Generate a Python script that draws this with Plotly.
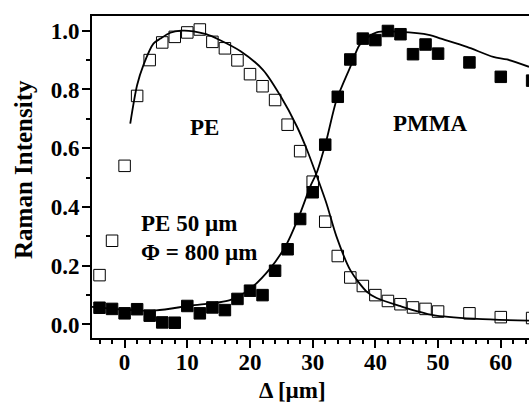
import plotly.graph_objects as go

# Measured data: PE (open squares) and PMMA (filled squares)
delta = [-4, -2, 0, 2, 4, 6, 8, 10, 12, 14, 16, 18, 20, 22, 24, 26, 28, 30,
         32, 34, 36, 38, 40, 42, 44, 46, 48, 50, 55, 60, 65]
pe_intensity = [0.168, 0.285, 0.54, 0.778, 0.90, 0.96, 0.979, 0.994, 1.004, 0.962,
                0.94, 0.899, 0.852, 0.811, 0.764, 0.68, 0.59, 0.486, 0.35, 0.233,
                0.16, 0.131, 0.10, 0.08, 0.069, 0.058, 0.053, 0.044, 0.038, 0.025, 0.022]
pmma_intensity = [0.057, 0.053, 0.038, 0.052, 0.03, 0.007, 0.006, 0.063, 0.038, 0.058,
                  0.049, 0.087, 0.115, 0.10, 0.183, 0.256, 0.359, 0.45, 0.612, 0.775,
                  0.902, 0.973, 0.968, 0.999, 0.988, 0.92, 0.953, 0.922, 0.892, 0.843, 0.83]

# Model curves (solid lines)
pe_fit_x = [0.9, 2, 3, 4.6, 5.7, 7.3, 9, 11, 13, 15, 18.5, 22.1, 24.8, 27.5, 29.1,
            30.4, 32.2, 33.8, 36, 38.6, 40.2, 43.9, 49.2, 56.2, 64.5]
pe_fit_y = [0.684, 0.815, 0.883, 0.956, 0.973, 0.993, 1.0, 0.998, 0.988, 0.97, 0.93,
            0.866, 0.78, 0.673, 0.594, 0.52, 0.412, 0.299, 0.185, 0.112, 0.09, 0.063,
            0.032, 0.019, 0.013]
pmma_fit_x = [-5.2, 0, 5, 10.4, 16.8, 20.1, 23.2, 25.9, 28, 29.6, 30.7, 32.2, 33.8,
              36, 37.6, 40.2, 44, 48.7, 50.3, 54.6, 58.8, 61, 64.5]
pmma_fit_y = [0.06, 0.05, 0.048, 0.064, 0.083, 0.123, 0.19, 0.276, 0.378, 0.469, 0.52,
              0.628, 0.764, 0.877, 0.955, 0.994, 0.996, 0.985, 0.974, 0.945, 0.911,
              0.902, 0.877]

x_range = [-5.2, 64.5]
y_range = [-0.046, 1.05]

FONT = "Liberation Serif, Times New Roman, serif"

fig = go.Figure()
fig.add_trace(go.Scatter(x=delta, y=pe_intensity, mode="markers",
                         marker=dict(symbol="square-open", size=11.5, color="black",
                                     line=dict(width=1, color="black"))))
fig.add_trace(go.Scatter(x=delta, y=pmma_intensity, mode="markers",
                         marker=dict(symbol="square", size=11.5, color="black",
                                     line=dict(width=1, color="black"))))
fig.add_trace(go.Scatter(x=pe_fit_x, y=pe_fit_y, mode="lines",
                         line=dict(color="black", width=1.8, shape="spline", smoothing=0.8)))
fig.add_trace(go.Scatter(x=pmma_fit_x, y=pmma_fit_y, mode="lines",
                         line=dict(color="black", width=1.8, shape="spline", smoothing=0.8)))

tickfont = dict(family=FONT, size=23, color="black", weight="bold")

fig.update_xaxes(range=x_range, showgrid=False, zeroline=False, automargin=False,
                 showline=True, linecolor="black", linewidth=2, mirror=True,
                 ticks="outside", ticklen=8, tickwidth=2, tickcolor="black",
                 tick0=0, dtick=10, tickfont=tickfont, ticklabelstandoff=-6,
                 minor=dict(dtick=2, tick0=0, ticks="outside", ticklen=4,
                            tickwidth=2, tickcolor="black", showgrid=False))
fig.update_yaxes(range=y_range, showgrid=False, zeroline=False, automargin=False,
                 showline=True, linecolor="black", linewidth=2, mirror=False,
                 ticks="outside", ticklen=8, tickwidth=2, tickcolor="black",
                 tick0=0, dtick=0.2, tickformat=".1f", tickfont=tickfont,
                 ticklabelstandoff=-2,
                 minor=dict(dtick=0.1, tick0=0, ticks="outside", ticklen=4,
                            tickwidth=2, tickcolor="black", showgrid=False))

FW, FH = 529, 402
L, T, W, H = 92, 16, 437, 322
def px(x):
    return (x - L) / W
def py(y):
    return (T + H - y) / H

afont = dict(family=FONT, size=23, color="black", weight="bold")
yfont = dict(family=FONT, size=25, color="black", weight="bold")
annotations = [
    dict(text="PE", x=12.7, y=0.672, xref="x", yref="y", showarrow=False, font=afont),
    dict(text="PMMA", x=48.7, y=0.685, xref="x", yref="y", showarrow=False, font=afont),
    dict(text="PE 50 µm", x=2.3, y=0.345, xref="x", yref="y", xanchor="left",
         yanchor="middle", showarrow=False, font=afont),
    dict(text="Φ = 800 µm", x=2.3, y=0.245, xref="x", yref="y", xanchor="left",
         yanchor="middle", showarrow=False, font=afont),
    dict(text="Δ [µm]", x=px(292), y=py(390), xref="paper", yref="paper",
         xanchor="center", yanchor="middle", showarrow=False, font=afont),
    dict(text="Raman Intensity", x=px(23), y=py(170), xref="paper", yref="paper",
         xanchor="center", yanchor="middle", textangle=-90, showarrow=False, font=yfont),
]

fig.update_layout(width=FW, height=FH,
                  margin=dict(l=L, r=FW - L - W, t=T, b=FH - T - H),
                  paper_bgcolor="white", plot_bgcolor="white",
                  showlegend=False, annotations=annotations)

fig.write_html("out.html", config={"displayModeBar": False},
               post_script="document.body.style.margin='0';"
                           "document.body.style.overflow='hidden';")
